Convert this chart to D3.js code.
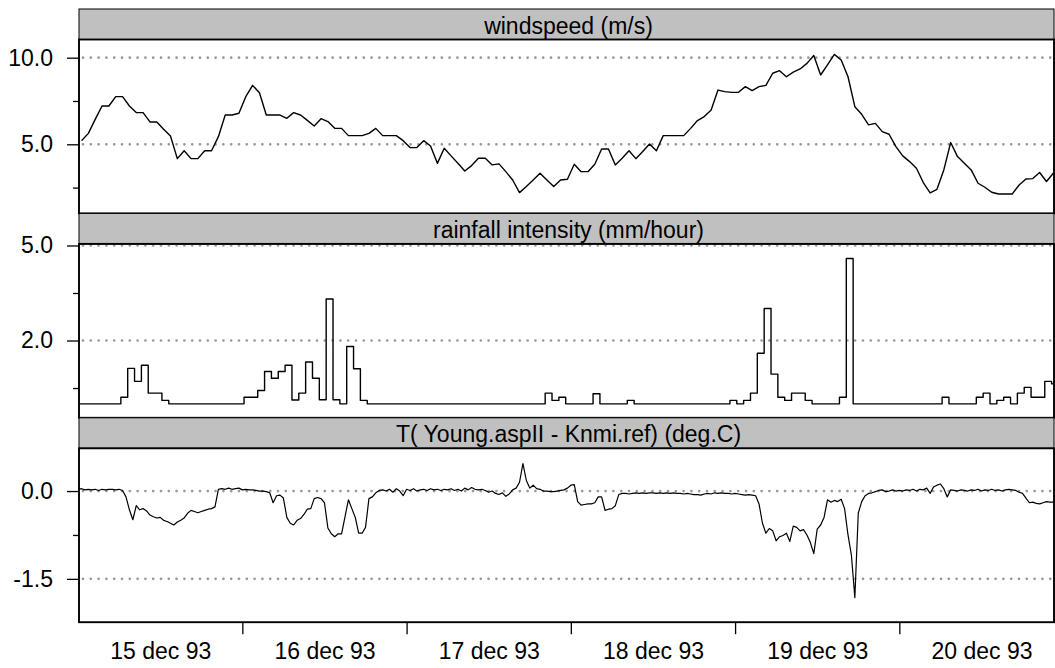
<!DOCTYPE html>
<html><head><meta charset="utf-8">
<script src="https://cdn.jsdelivr.net/npm/d3@7"></script>
<style>
html,body{margin:0;padding:0;background:#fff;}
text{font-family:"Liberation Sans",Arial,Helvetica,sans-serif;}
</style></head><body>
<svg id="chart" width="1055" height="668"></svg>
<script>
// ---- data (hourly windspeed, hourly rainfall, half-hourly temperature difference) ----
const windspeed = [5.2,5.63,6.44,7.21,7.21,7.75,7.75,7.21,6.83,6.83,6.29,6.29,5.87,5.48,4.17,4.63,4.17,4.17,4.63,4.63,
  5.44,6.69,6.69,6.79,7.75,8.40,7.98,6.69,6.69,6.69,6.5,6.83,6.69,
  6.38,6.06,6.48,6.31,5.92,5.92,5.5,5.5,5.5,5.63,5.92,5.5,5.5,5.5,5.21,4.81,4.81,5.21,4.9,3.9,4.77,4.33,3.9,3.46,3.77,
  4.19,4.19,3.81,3.87,3.42,2.94,2.21,2.56,2.94,3.33,2.94,2.56,2.94,2.98,3.85,3.42,3.42,3.85,4.73,4.73,3.81,4.19,4.63,
  4.17,4.58,5.02,4.63,5.5,5.5,5.5,5.5,5.92,6.37,
  6.6,6.98,8.13,8.04,8.0,8.0,8.33,8.1,8.33,8.4,9.1,9.25,8.9,9.17,9.35,9.67,10.13,9.0,9.58,10.19,9.87,8.9,7.17,6.73,
  6.12,6.21,5.73,5.58,4.87,4.33,4.0,3.62,2.79,2.2,2.4,3.52,5.1,4.29,3.9,3.52,2.75,2.52,2.23,2.13,2.13,2.13,2.65,3.0,
  3.02,3.37,2.85,3.33];
const rainfall = [0,0,0,0,0,0,0.21,1.12,0.71,1.22,0.34,0.34,0.11,
  0,0,0,0,0,0,0,0,0,0,0,
  0.21,0.21,0.42,1.02,0.81,1.02,1.22,0.12,0.34,1.32,0.81,0.13,3.31,0.13,0,1.81,1.11,0.11,
  0,0,0,0,0,0,0,0,0,0,0,0,0,0,0,0,0,0,0,0,0,0,0,0,0,0,
  0.34,0.11,0.21,0,0,0,0,0.32,0,0,0,0,0.11,
  0,0,0,0,0,0,0,0,0,0,0,0,0,0,
  0.11,0,0.11,0.34,1.6,3.01,0.94,0.21,0.11,0.34,0.34,0.11,0,0,0,0,0.21,4.59,
  0,0,0,0,0,0,0,0,0,0,0,0,0,
  0.21,0,0,0,0,0.21,0.34,0,0.11,0.21,0,0.34,0.52,0.21,0.21,0.71,0.63];
const tempDiff = [0.03,0.04,0.02,0.03,0.02,0.03,0.01,0.03,0.02,0.03,0.03,0.02,0.03,0.01,
  -0.1,-0.32,-0.49,-0.25,-0.32,-0.3,-0.34,-0.41,-0.44,-0.46,-0.45,-0.5,-0.52,-0.55,-0.58,-0.53,-0.5,-0.46,-0.38,-0.33,
  -0.35,-0.37,-0.35,-0.33,-0.31,-0.3,-0.27,
  0.03,0.04,0.03,0.05,0.03,0.04,0.05,0.02,0.03,0.02,0.02,0.01,0.0,0.0,-0.01,-0.03,
  -0.2,-0.08,-0.07,-0.12,-0.45,-0.55,-0.58,-0.5,
  -0.47,-0.4,-0.31,-0.3,-0.13,-0.11,-0.13,-0.2,-0.63,-0.73,-0.78,-0.73,-0.73,-0.44,-0.15,-0.3,
  -0.45,-0.72,-0.72,-0.62,-0.13,-0.1,-0.03,0.01,0.02,0.0,0.03,-0.02,0.04,0.0,-0.08,0.03,0.01,0.04,0.0,0.02,
  0.03,0.01,0.04,0.02,0.03,0.01,0.03,0.02,0.04,0.01,0.03,0.0,0.05,0.02,0.06,0.03,0.02,0.03,0.01,-0.02,
  0.0,-0.04,-0.06,-0.03,-0.09,-0.05,0.02,0.05,
  0.15,0.47,0.18,0.05,0.1,0.04,0.03,0.0,0.0,-0.01,-0.01,0.0,0.01,0.02,0.05,0.1,0.11,
  -0.18,-0.24,-0.23,-0.22,-0.22,-0.2,-0.1,-0.1,-0.33,-0.31,-0.3,-0.25,
  -0.06,-0.04,-0.04,-0.05,-0.04,-0.03,-0.04,-0.03,-0.04,-0.03,-0.03,-0.04,-0.03,-0.04,-0.03,-0.04,-0.03,-0.04,-0.04,-0.05,
  -0.04,-0.05,-0.06,
  -0.06,-0.07,-0.05,-0.04,-0.05,-0.03,-0.04,-0.03,-0.04,-0.04,-0.05,-0.04,-0.05,-0.06,-0.07,-0.06,-0.07,-0.08,
  -0.22,-0.55,-0.72,-0.64,-0.68,-0.85,-0.78,-0.76,-0.72,-0.86,-0.6,-0.62,-0.68,-0.66,-0.75,-0.88,-1.07,-0.65,-0.58,-0.45,
  -0.15,-0.19,-0.16,-0.18,-0.14,-0.3,-0.75,-1.1,-1.82,-0.38,-0.18,-0.08,
  -0.04,-0.03,-0.01,0.01,0.02,-0.01,0.0,0.02,0.0,0.01,0.0,0.02,0.01,0.03,0.0,0.03,0.02,0.05,-0.04,0.07,
  0.1,0.12,0.04,-0.1,0.02,0.01,0.0,0.02,0.01,0.0,0.02,0.01,0.03,0.0,0.02,0.01,0.03,0.01,0.02,0.0,
  0.02,0.03,0.02,0.01,-0.02,-0.04,
  -0.12,-0.2,-0.19,-0.21,-0.22,-0.2,-0.18,-0.19,-0.19];

const panelTitles = ["windspeed (m/s)", "rainfall intensity (mm/hour)", "T( Young.aspII - Knmi.ref) (deg.C)"];
const windTicks = [10, 5], windTickLabels = ["10.0", "5.0"], windMinorTicks = [7.5, 2.5];
const rainTicks = [5, 2], rainTickLabels = ["5.0", "2.0"], rainMinorTicks = [3.5, 0.5];
const tempTicks = [0, -1.5], tempTickLabels = ["0.0", "-1.5"], tempMinorTicks = [-0.75];
const dayLabels = ["15 dec 93", "16 dec 93", "17 dec 93", "18 dec 93", "19 dec 93", "20 dec 93"];
const dayLabelDays = [15, 16, 17, 18, 19, 20];
const dayTickDays = [16, 17, 18, 19, 20];
const yDomains = [[1.01, 11.05], [-0.44, 5.05], [-2.24, 0.73]];

// ---- layout ----
const HOUR = 3600000, MIN = 60000;
const t0 = Date.UTC(1993, 11, 15, 0, 0);
const left = 79, right = 1054, top0 = 9, blockH = 204.4, stripH = 30.5, plotH = 173.9;
const FONT = 23;

const svg = d3.select("#chart");
svg.append("rect").attr("width", 1055).attr("height", 668).attr("fill", "#fff");

const x = d3.scaleUtc()
  .domain([new Date(t0 + 8 * MIN), new Date(t0 + (142 * 60 + 36) * MIN)])
  .range([left, right]);

const series = [
  { values: windspeed, time: i => new Date(t0 + (i + 0.5) * HOUR), curve: d3.curveLinear, ticks: windTicks, labels: windTickLabels, minor: windMinorTicks, width: 1.4 },
  { values: rainfall, time: i => new Date(t0 + (i + 0.25) * HOUR), curve: d3.curveStepAfter, ticks: rainTicks, labels: rainTickLabels, minor: rainMinorTicks, width: 1.4, step: true },
  { values: tempDiff, time: i => new Date(t0 + i * 0.5 * HOUR), curve: d3.curveLinear, ticks: tempTicks, labels: tempTickLabels, minor: tempMinorTicks, width: 1.2 }
];

series.forEach((s, p) => {
  const top = top0 + p * blockH;
  const pTop = top + stripH, pBot = pTop + plotH;
  const y = d3.scaleLinear().domain(yDomains[p]).range([pBot, pTop]);
  const g = svg.append("g");

  // strip
  g.append("rect").attr("x", left).attr("y", top).attr("width", right - left).attr("height", stripH)
    .attr("fill", "#c0c0c0").attr("stroke", "#000").attr("stroke-width", 1);
  g.append("text").attr("x", (left + right) / 2 + 2).attr("y", pTop - 6).attr("text-anchor", "middle")
    .attr("font-size", FONT).attr("fill", "#000").text(panelTitles[p]);

  // reference grid lines at labelled ticks
  g.selectAll("line.grid").data(s.ticks).join("line").attr("class", "grid")
    .attr("x1", left + 4).attr("x2", right).attr("y1", d => y(d)).attr("y2", d => y(d))
    .attr("stroke", "#999").attr("stroke-width", 2.7).attr("stroke-linecap", "round")
    .attr("stroke-dasharray", "0 7.8");

  // data
  const clipId = "clip" + p;
  svg.append("clipPath").attr("id", clipId).append("rect")
    .attr("x", left).attr("y", pTop).attr("width", right - left).attr("height", plotH);
  let pts = s.values.map((v, i) => [s.time(i), v]);
  if (s.step) pts.push([s.time(s.values.length), s.values[s.values.length - 1]]);
  const line = d3.line().x(d => x(d[0])).y(d => y(d[1])).curve(s.curve);
  g.append("path").attr("d", line(pts)).attr("fill", "none").attr("stroke", "#000")
    .attr("stroke-width", s.width).attr("stroke-linejoin", "round").attr("clip-path", `url(#${clipId})`);

  // frame
  g.append("rect").attr("x", left).attr("y", pTop).attr("width", right - left).attr("height", plotH)
    .attr("fill", "none").attr("stroke", "#000").attr("stroke-width", 1.9);

  // y axis
  const ax = g.append("g").attr("transform", `translate(${left},0)`)
    .call(d3.axisLeft(y).tickValues(s.ticks).tickSize(12).tickPadding(14).tickFormat((d, i) => s.labels[i]));
  const axm = g.append("g").attr("transform", `translate(${left},0)`)
    .call(d3.axisLeft(y).tickValues(s.minor).tickSize(6).tickFormat(""));
  [ax, axm].forEach(a => {
    a.select(".domain").remove();
    a.selectAll("line").attr("stroke", "#000").attr("stroke-width", 1.3);
    a.selectAll("text").attr("font-size", FONT).attr("fill", "#000").attr("font-family", null);
  });

  if (p === series.length - 1) {
    const xt = g.append("g").attr("transform", `translate(0,${pBot})`)
      .call(d3.axisBottom(x).tickValues(dayTickDays.map(d => new Date(Date.UTC(1993, 11, d)))).tickSize(12).tickFormat(""));
    const xl = g.append("g").attr("transform", `translate(0,${pBot})`)
      .call(d3.axisBottom(x).tickValues(dayLabelDays.map(d => new Date(Date.UTC(1993, 11, d, 12)))).tickSize(0).tickPadding(20.8)
        .tickFormat((d, i) => dayLabels[i]));
    [xt, xl].forEach(a => {
      a.select(".domain").remove();
      a.selectAll("line").attr("stroke", "#000").attr("stroke-width", 1.3);
      a.selectAll("text").attr("font-size", FONT).attr("fill", "#000").attr("font-family", null);
    });
  }
});
</script>
</body></html>
